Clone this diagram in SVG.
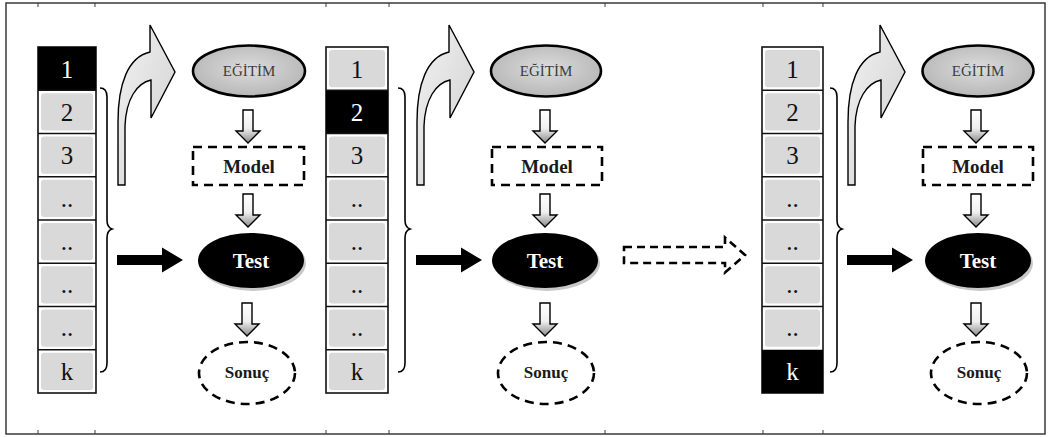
<svg xmlns="http://www.w3.org/2000/svg" xmlns:xlink="http://www.w3.org/1999/xlink" width="1051" height="437" viewBox="0 0 1051 437">
  <style>
    .frame { fill: #ffffff; stroke: #3a3a3a; stroke-width: 1.5; }
    .tick { stroke: #3a3a3a; stroke-width: 1; }
    .col-border { fill: #ffffff; stroke: #111111; stroke-width: 1.6; }
    .sep { stroke: #111111; stroke-width: 1.6; }
    .cell { fill: #d9d9d9; }
    .cell-on { fill: #000000; }
    .num { font-family: "Liberation Serif", "Times New Roman", "DejaVu Serif", serif; font-size: 25px; text-anchor: middle; fill: #111111; }
    .num-on { fill: #ffffff; }
    .egitim-shape { fill: url(#egitimFill); stroke: #000000; stroke-width: 2.6; }
    .egitim-text { font-family: "Liberation Serif", "Times New Roman", "DejaVu Serif", serif; font-size: 15px; text-anchor: middle; fill: #3c3c3c; }
    .dashed { fill: #ffffff; stroke: #000000; stroke-width: 2.6; stroke-dasharray: 9 6; }
    .bold-text { font-family: "Liberation Serif", "Times New Roman", "DejaVu Serif", serif; font-weight: bold; text-anchor: middle; fill: #1a1a1a; }
    .test-shadow { fill: #c8c8c8; }
    .test-shape { fill: #000000; }
    .test-text { font-family: "Liberation Serif", "Times New Roman", "DejaVu Serif", serif; font-weight: bold; font-size: 21px; text-anchor: middle; fill: #ffffff; }
    .brace { fill: none; stroke: #000000; stroke-width: 1.6; }
    .bend { fill: url(#bendFill); stroke: #000000; stroke-width: 1.4; stroke-linejoin: miter; }
    .down { fill: url(#downFill); stroke: #000000; stroke-width: 1.4; }
    .solid-arrow { fill: #000000; }
    .dash-arrow { fill: none; stroke: #000000; stroke-width: 2.6; stroke-dasharray: 8 5; }
  </style>
  <defs>
    <radialGradient id="egitimFill" cx="50%" cy="45%" r="60%">
      <stop offset="0" stop-color="#dcdcdc"/>
      <stop offset="1" stop-color="#b4b4b4"/>
    </radialGradient>
    <linearGradient id="bendFill" x1="0" y1="0" x2="1" y2="1">
      <stop offset="0" stop-color="#f2f2f2"/>
      <stop offset="1" stop-color="#cfcfcf"/>
    </linearGradient>
    <linearGradient id="downFill" x1="0" y1="0" x2="0" y2="1">
      <stop offset="0" stop-color="#ffffff"/>
      <stop offset="0.55" stop-color="#f0f0f0"/>
      <stop offset="1" stop-color="#8a8a8a"/>
    </linearGradient>
    <!-- hollow down arrow, origin at top centre of the shaft -->
    <path id="downArrow" class="down" d="M-5,0 H5 V21 H12 L0,33 L-12,21 H-5 Z"/>
    <!-- bent-up arrow rising out of the training folds -->
    <path id="bentArrow" class="bend" d="M118,185 L118,122 C118,84 128,57 150,52 L150,25 L175,72 L151,118 L151,80 C137,83 126,99 125,126 L125,185 Z"/>
    <path id="braceShape" class="brace" d="M100,88 C105,88 107,91 107,97 L107,220 C107,225 109,228 112,229 C109,230 107,233 107,238 L107,363 C107,369 105,372 100,372"/>
    <path id="solidArrow" class="solid-arrow" d="M117,255 H162 V247.5 L183,260 L162,272.5 V265 H117 Z"/>
  </defs>

  <!-- outer frame -->
  <rect class="frame" x="6" y="3" width="1039" height="431"/>
  <g id="frame-ticks">
    <line class="tick" x1="38" y1="3" x2="38" y2="7"/>
    <line class="tick" x1="95" y1="3" x2="95" y2="7"/>
    <line class="tick" x1="326" y1="3" x2="326" y2="7"/>
    <line class="tick" x1="389" y1="3" x2="389" y2="7"/>
    <line class="tick" x1="605" y1="3" x2="605" y2="7"/>
    <line class="tick" x1="763" y1="3" x2="763" y2="7"/>
    <line class="tick" x1="823" y1="3" x2="823" y2="7"/>
    <line class="tick" x1="38" y1="430" x2="38" y2="434"/>
    <line class="tick" x1="95" y1="430" x2="95" y2="434"/>
    <line class="tick" x1="326" y1="430" x2="326" y2="434"/>
    <line class="tick" x1="389" y1="430" x2="389" y2="434"/>
    <line class="tick" x1="605" y1="430" x2="605" y2="434"/>
    <line class="tick" x1="763" y1="430" x2="763" y2="434"/>
    <line class="tick" x1="823" y1="430" x2="823" y2="434"/>
  </g>

  <!-- fold columns: 8 cells of 43.25 from y=47 to y=393 -->
  <g id="folds-1">
    <rect class="col-border" x="38" y="47" width="58" height="346"/>
    <rect class="cell-on" x="38" y="47" width="58" height="43.25"/>
    <rect class="cell" x="41" y="93.25" width="52" height="37.25" rx="3"/>
    <rect class="cell" x="41" y="136.5" width="52" height="37.25" rx="3"/>
    <rect class="cell" x="41" y="179.75" width="52" height="37.25" rx="3"/>
    <rect class="cell" x="41" y="223" width="52" height="37.25" rx="3"/>
    <rect class="cell" x="41" y="266.25" width="52" height="37.25" rx="3"/>
    <rect class="cell" x="41" y="309.5" width="52" height="37.25" rx="3"/>
    <rect class="cell" x="41" y="352.75" width="52" height="37.25" rx="3"/>
    <line class="sep" x1="38" y1="90.25" x2="96" y2="90.25"/>
    <line class="sep" x1="38" y1="133.5" x2="96" y2="133.5"/>
    <line class="sep" x1="38" y1="176.75" x2="96" y2="176.75"/>
    <line class="sep" x1="38" y1="220" x2="96" y2="220"/>
    <line class="sep" x1="38" y1="263.25" x2="96" y2="263.25"/>
    <line class="sep" x1="38" y1="306.5" x2="96" y2="306.5"/>
    <line class="sep" x1="38" y1="349.75" x2="96" y2="349.75"/>
    <text class="num num-on" x="67" y="77.5">1</text>
    <text class="num" x="67" y="121">2</text>
    <text class="num" x="67" y="164">3</text>
    <text class="num" x="67" y="207">..</text>
    <text class="num" x="67" y="250">..</text>
    <text class="num" x="67" y="293">..</text>
    <text class="num" x="67" y="336">..</text>
    <text class="num" x="67" y="380">k</text>
  </g>

  <g id="folds-2">
    <rect class="col-border" x="326" y="47" width="62" height="346"/>
    <rect class="cell" x="329" y="50" width="56" height="37.25" rx="3"/>
    <rect class="cell-on" x="326" y="90.25" width="62" height="43.25"/>
    <rect class="cell" x="329" y="136.5" width="56" height="37.25" rx="3"/>
    <rect class="cell" x="329" y="179.75" width="56" height="37.25" rx="3"/>
    <rect class="cell" x="329" y="223" width="56" height="37.25" rx="3"/>
    <rect class="cell" x="329" y="266.25" width="56" height="37.25" rx="3"/>
    <rect class="cell" x="329" y="309.5" width="56" height="37.25" rx="3"/>
    <rect class="cell" x="329" y="352.75" width="56" height="37.25" rx="3"/>
    <line class="sep" x1="326" y1="90.25" x2="388" y2="90.25"/>
    <line class="sep" x1="326" y1="133.5" x2="388" y2="133.5"/>
    <line class="sep" x1="326" y1="176.75" x2="388" y2="176.75"/>
    <line class="sep" x1="326" y1="220" x2="388" y2="220"/>
    <line class="sep" x1="326" y1="263.25" x2="388" y2="263.25"/>
    <line class="sep" x1="326" y1="306.5" x2="388" y2="306.5"/>
    <line class="sep" x1="326" y1="349.75" x2="388" y2="349.75"/>
    <text class="num" x="357" y="77.5">1</text>
    <text class="num num-on" x="357" y="121">2</text>
    <text class="num" x="357" y="164">3</text>
    <text class="num" x="357" y="207">..</text>
    <text class="num" x="357" y="250">..</text>
    <text class="num" x="357" y="293">..</text>
    <text class="num" x="357" y="336">..</text>
    <text class="num" x="357" y="380">k</text>
  </g>

  <g id="folds-k">
    <rect class="col-border" x="762" y="47" width="61" height="346"/>
    <rect class="cell" x="765" y="50" width="55" height="37.25" rx="3"/>
    <rect class="cell" x="765" y="93.25" width="55" height="37.25" rx="3"/>
    <rect class="cell" x="765" y="136.5" width="55" height="37.25" rx="3"/>
    <rect class="cell" x="765" y="179.75" width="55" height="37.25" rx="3"/>
    <rect class="cell" x="765" y="223" width="55" height="37.25" rx="3"/>
    <rect class="cell" x="765" y="266.25" width="55" height="37.25" rx="3"/>
    <rect class="cell" x="765" y="309.5" width="55" height="37.25" rx="3"/>
    <rect class="cell-on" x="762" y="349.75" width="61" height="43.25"/>
    <line class="sep" x1="762" y1="90.25" x2="823" y2="90.25"/>
    <line class="sep" x1="762" y1="133.5" x2="823" y2="133.5"/>
    <line class="sep" x1="762" y1="176.75" x2="823" y2="176.75"/>
    <line class="sep" x1="762" y1="220" x2="823" y2="220"/>
    <line class="sep" x1="762" y1="263.25" x2="823" y2="263.25"/>
    <line class="sep" x1="762" y1="306.5" x2="823" y2="306.5"/>
    <text class="num" x="792.5" y="77.5">1</text>
    <text class="num" x="792.5" y="121">2</text>
    <text class="num" x="792.5" y="164">3</text>
    <text class="num" x="792.5" y="207">..</text>
    <text class="num" x="792.5" y="250">..</text>
    <text class="num" x="792.5" y="293">..</text>
    <text class="num" x="792.5" y="336">..</text>
    <text class="num num-on" x="792.5" y="380">k</text>
  </g>

  <!-- flow nodes, panel 1 -->
  <g id="egitim-1">
    <ellipse class="egitim-shape" cx="249" cy="71" rx="56" ry="25.5"/>
    <text class="egitim-text" x="249" y="76">EĞİTİM</text>
  </g>
  <g id="model-1">
    <rect class="dashed" x="193" y="147" width="111" height="38"/>
    <text class="bold-text" x="249" y="173" font-size="19">Model</text>
  </g>
  <g id="test-1">
    <ellipse class="test-shadow" cx="253" cy="263" rx="53" ry="28"/>
    <ellipse class="test-shape" cx="251" cy="260.5" rx="53" ry="27.5"/>
    <text class="test-text" x="251" y="268">Test</text>
  </g>
  <g id="sonuc-1">
    <ellipse class="dashed" cx="247" cy="373" rx="48" ry="31"/>
    <text class="bold-text" x="247" y="378" font-size="17">Sonuç</text>
  </g>

  <!-- flow nodes, panel 2 -->
  <g id="egitim-2">
    <ellipse class="egitim-shape" cx="546" cy="71" rx="55" ry="25.5"/>
    <text class="egitim-text" x="546" y="76">EĞİTİM</text>
  </g>
  <g id="model-2">
    <rect class="dashed" x="492" y="147" width="110" height="38"/>
    <text class="bold-text" x="547" y="173" font-size="19">Model</text>
  </g>
  <g id="test-2">
    <ellipse class="test-shadow" cx="547" cy="263" rx="53" ry="28"/>
    <ellipse class="test-shape" cx="545" cy="260.5" rx="53" ry="27.5"/>
    <text class="test-text" x="545" y="268">Test</text>
  </g>
  <g id="sonuc-2">
    <ellipse class="dashed" cx="546" cy="373" rx="48" ry="31"/>
    <text class="bold-text" x="546" y="378" font-size="17">Sonuç</text>
  </g>

  <!-- flow nodes, panel k -->
  <g id="egitim-k">
    <ellipse class="egitim-shape" cx="978" cy="71" rx="55.5" ry="25.5"/>
    <text class="egitim-text" x="978" y="76">EĞİTİM</text>
  </g>
  <g id="model-k">
    <rect class="dashed" x="923" y="147" width="110" height="38"/>
    <text class="bold-text" x="978" y="173" font-size="19">Model</text>
  </g>
  <g id="test-k">
    <ellipse class="test-shadow" cx="980" cy="263" rx="53" ry="28"/>
    <ellipse class="test-shape" cx="978" cy="260.5" rx="53" ry="27.5"/>
    <text class="test-text" x="978" y="268">Test</text>
  </g>
  <g id="sonuc-k">
    <ellipse class="dashed" cx="979" cy="373" rx="48" ry="31"/>
    <text class="bold-text" x="979" y="378" font-size="17">Sonuç</text>
  </g>

  <!-- connectors -->
  <g id="connectors">
    <!-- braces grouping the training folds -->
    <use xlink:href="#braceShape"/>
    <use xlink:href="#braceShape" transform="translate(298,0)"/>
    <use xlink:href="#braceShape" transform="translate(730,0)"/>
    <!-- bent arrows to training -->
    <use xlink:href="#bentArrow"/>
    <use xlink:href="#bentArrow" transform="translate(299,0)"/>
    <use xlink:href="#bentArrow" transform="translate(730,0)"/>
    <!-- test fold to Test -->
    <use xlink:href="#solidArrow"/>
    <use xlink:href="#solidArrow" transform="translate(299,0)"/>
    <use xlink:href="#solidArrow" transform="translate(730,0)"/>
    <!-- vertical flow arrows -->
    <use xlink:href="#downArrow" transform="translate(248,110)"/>
    <use xlink:href="#downArrow" transform="translate(248,194)"/>
    <use xlink:href="#downArrow" transform="translate(247,303)"/>
    <use xlink:href="#downArrow" transform="translate(545,110)"/>
    <use xlink:href="#downArrow" transform="translate(545,194)"/>
    <use xlink:href="#downArrow" transform="translate(545,303)"/>
    <use xlink:href="#downArrow" transform="translate(976,110)"/>
    <use xlink:href="#downArrow" transform="translate(976,194)"/>
    <use xlink:href="#downArrow" transform="translate(976,303)"/>
    <!-- continuation to fold k -->
    <path class="dash-arrow" d="M624,247 H725 V237.5 L745,255 L725,272.5 V263 H624 Z"/>
  </g>
</svg>
